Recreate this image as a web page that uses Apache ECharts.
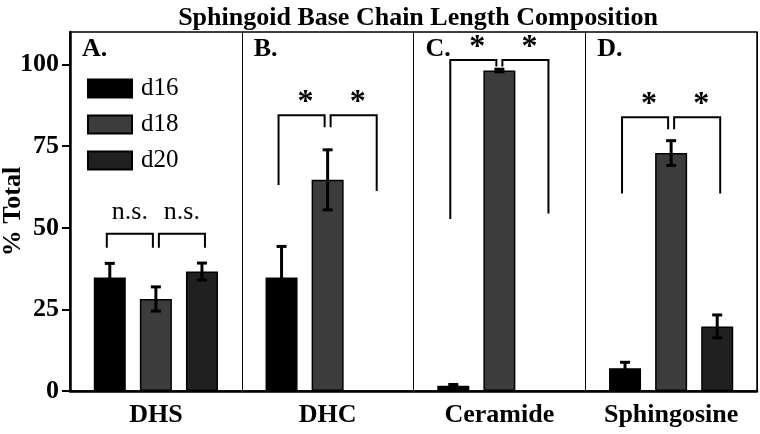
<!DOCTYPE html>
<html><head><meta charset="utf-8">
<script src="https://cdn.jsdelivr.net/npm/echarts@6/dist/echarts.min.js"></script>
<style>html,body{margin:0;padding:0;background:#fff}#c{width:760px;height:434px}</style>
</head><body><div id="c"></div>
<script>
const titleText = 'Sphingoid Base Chain Length Composition';
const yName = '% Total';
const categories = ['DHS', 'DHC', 'Ceramide', 'Sphingosine'];
const panelLetters = ['A.', 'B.', 'C.', 'D.'];
const seriesNames = ['d16', 'd18', 'd20'];
const d16 = [34.8, 34.8, 1.6, 7.0];
const d18 = [28.2, 64.7, 98.2, 72.9];
const d20 = [36.6, null, null, 19.8];
const d16Err = [4.3, 9.5, 0.4, 1.8];
const d18Err = [3.7, 9.2, 0.4, 3.8];
const d20Err = [2.6, null, null, 3.5];
const yTicks = [0, 25, 50, 75, 100];
// [category, fromBar, toBar, bracketTop, leftEnd, rightEnd, label]
const brackets = [
  [0, 0, 1, 48.2, 43.9, 43.9, 'n.s.'],
  [0, 1, 2, 48.2, 43.9, 43.9, 'n.s.'],
  [1, 0, 1, 84.5, 63.1, 80.8, '*'],
  [1, 1, 2, 84.5, 80.8, 61.3, '*'],
  [2, 0, 1, 101.4, 52.7, 99.4, '*'],
  [2, 1, 2, 101.4, 99.4, 54.4, '*'],
  [3, 0, 1, 83.9, 60.5, 80.2, '*'],
  [3, 1, 2, 83.9, 80.2, 60.5, '*']
];

const FONT = 'Liberation Serif';
const colors = ['#000000', '#3c3c3c', '#202020'];
const BAR_W = 32, BAR_GAP = 0.44;
const SLOT = BAR_W * (1 + BAR_GAP);
const values = [d16, d18, d20];
const errs = [d16Err, d18Err, d20Err];

const errData = [];
values.forEach((arr, s) => arr.forEach((v, i) => {
  if (v != null && errs[s][i] != null) errData.push([i, v, errs[s][i], s]);
}));

const chart = echarts.init(document.getElementById('c'), null, {renderer: 'canvas'});

const barSeries = seriesNames.map((n, s) => ({
  name: n, type: 'bar', data: values[s], barWidth: BAR_W, barGap: (BAR_GAP * 100) + '%',
  itemStyle: {color: colors[s], borderColor: '#000', borderWidth: 1.5},
  z: 2
}));

const errSeries = {
  type: 'custom', data: errData, z: 5, silent: true,
  renderItem: function (params, api) {
    const i = api.value(0), v = api.value(1), e = api.value(2), s = api.value(3);
    const top = api.coord([i, v + e]);
    const bot = api.coord([i, v - e]);
    const x = top[0] + (s - 1) * SLOT;
    const cw = 5;
    const st = {stroke: '#000', lineWidth: 3};
    return {type: 'group', children: [
      {type: 'line', shape: {x1: x, y1: top[1], x2: x, y2: bot[1]}, style: st},
      {type: 'line', shape: {x1: x - cw, y1: top[1], x2: x + cw, y2: top[1]}, style: st},
      {type: 'line', shape: {x1: x - cw, y1: bot[1], x2: x + cw, y2: bot[1]}, style: st}
    ]};
  }
};

const bracketSeries = {
  type: 'custom', data: brackets, z: 6, silent: true,
  renderItem: function (params, api) {
    const b = brackets[params.dataIndex];
    const c = b[0];
    const p0 = api.coord([c, b[3]]);
    const xl = p0[0] + (b[1] - 1) * SLOT + (b[1] === 1 ? 3 : -3);
    const xr = p0[0] + (b[2] - 1) * SLOT + (b[2] === 1 ? -3 : 3);
    const yt = p0[1];
    const yl = api.coord([c, b[4]])[1];
    const yr = api.coord([c, b[5]])[1];
    const st = {stroke: '#000', lineWidth: 2, fill: null};
    const isStar = b[6] === '*';
    return {type: 'group', children: [
      {type: 'polyline', shape: {points: [[xl, yl], [xl, yt], [xr, yt], [xr, yr]]}, style: st},
      {type: 'text', style: {
        text: b[6], x: (xl + xr) / 2 + (isStar ? 4 : 0), y: yt - (isStar ? 12 : 9),
        align: 'center', verticalAlign: isStar ? 'middle' : 'bottom',
        font: (isStar ? 'bold 32px ' : '26px ') + FONT, fill: '#000'
      }}
    ]};
  }
};

const letterSeries = {
  type: 'custom', data: panelLetters.map((l, i) => [i, 110]), z: 6, silent: true,
  renderItem: function (params, api) {
    const p = api.coord([params.dataIndex, 110]);
    const band = api.size([1, 0])[0];
    return {type: 'text', style: {
      text: panelLetters[params.dataIndex], x: p[0] - band / 2 + 12, y: p[1] + 4,
      align: 'left', verticalAlign: 'top', font: 'bold 26px ' + FONT, fill: '#000'
    }};
  }
};

chart.setOption({
  animation: false,
  backgroundColor: '#fff',
  title: {
    text: titleText, left: 413, top: 0, textAlign: 'center',
    textStyle: {fontFamily: FONT, fontWeight: 'bold', fontSize: 26, color: '#000'}
  },
  legend: {
    data: seriesNames, orient: 'vertical', left: 82, top: 71,
    itemWidth: 44, itemHeight: 18, itemGap: 11, icon: 'rect',
    textStyle: {fontFamily: FONT, fontSize: 25, color: '#000', padding: [0, 0, 0, 4]},
    selectedMode: false
  },
  grid: {left: 70, right: 3, top: 32, bottom: 43, containLabel: false, outerBoundsMode: 'none',
    show: true, borderColor: '#000', borderWidth: 1.5, backgroundColor: '#fff'},
  xAxis: {
    type: 'category', data: categories,
    axisLine: {lineStyle: {color: '#000', width: 2.5}},
    axisTick: {alignWithLabel: true, length: 8, lineStyle: {color: '#000', width: 2}},
    axisLabel: {interval: 0, fontFamily: FONT, fontWeight: 'bold', fontSize: 26, color: '#000', margin: 11},
    splitLine: {show: true, interval: 0, lineStyle: {color: '#000', width: 1}}
  },
  yAxis: {
    type: 'value', min: 0, max: 110,
    name: yName, nameLocation: 'middle', nameGap: 44, nameMoveOverlap: false,
    nameTextStyle: {fontFamily: FONT, fontWeight: 'bold', fontSize: 26, color: '#000'},
    axisLine: {show: true, lineStyle: {color: '#000', width: 2.5}},
    axisTick: {show: true, length: 8, customValues: yTicks, lineStyle: {color: '#000', width: 2}},
    axisLabel: {customValues: yTicks, fontFamily: FONT, fontWeight: 'bold', fontSize: 26, color: '#000', margin: 11},
    splitLine: {show: false}
  },
  series: [...barSeries, errSeries, bracketSeries, letterSeries]
});
</script>
</body></html>
